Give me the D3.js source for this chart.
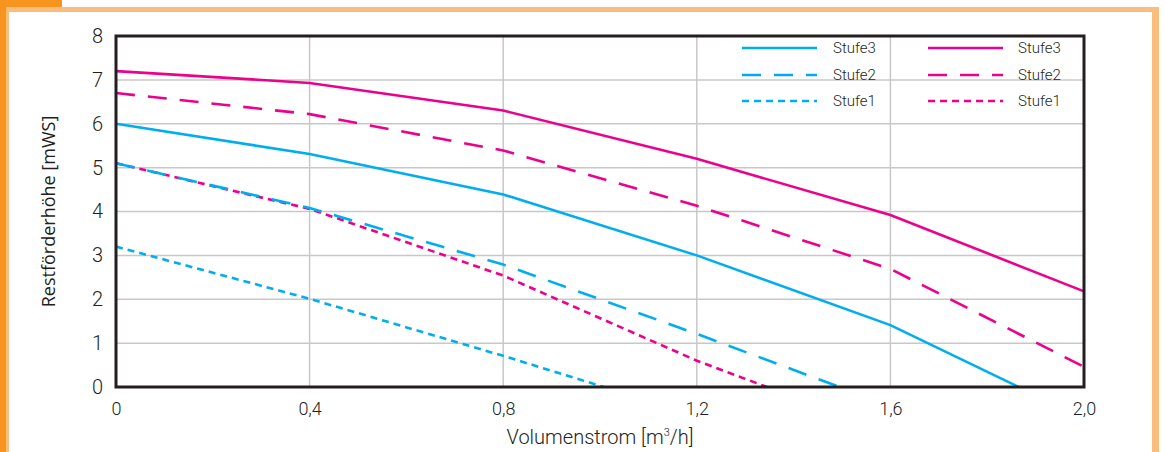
<!DOCTYPE html>
<html>
<head>
<meta charset="utf-8">
<script src="https://cdn.jsdelivr.net/npm/d3@7/dist/d3.min.js"></script>
<style>
  html, body { margin: 0; padding: 0; background: #fff; }
  svg { display: block; }
</style>
</head>
<body>
<svg id="chart" width="1165" height="452"></svg>
<script>
// ---- data ----
const xTickValues = [0, 0.4, 0.8, 1.2, 1.6, 2.0];
const xTickLabels = ["0", "0,4", "0,8", "1,2", "1,6", "2,0"];
const yTickValues = [0, 1, 2, 3, 4, 5, 6, 7, 8];

const cyanStufe3Flow = [0, 0.4, 0.8, 1.2, 1.6, 1.865];
const cyanStufe3Head = [6.0, 5.31, 4.39, 3.0, 1.41, 0];
const cyanStufe2Flow = [0, 0.4, 0.8, 1.2, 1.495];
const cyanStufe2Head = [5.1, 4.08, 2.79, 1.21, 0];
const cyanStufe1Flow = [0, 0.4, 0.8, 1.008];
const cyanStufe1Head = [3.2, 2.01, 0.71, 0];

const magentaStufe3Flow = [0, 0.4, 0.8, 1.2, 1.6, 2.0];
const magentaStufe3Head = [7.2, 6.93, 6.3, 5.2, 3.92, 2.18];
const magentaStufe2Flow = [0, 0.4, 0.8, 1.2, 1.6, 2.0];
const magentaStufe2Head = [6.7, 6.22, 5.39, 4.13, 2.69, 0.46];
const magentaStufe1Flow = [0, 0.4, 0.8, 1.2, 1.345];
const magentaStufe1Head = [5.1, 4.06, 2.54, 0.6, 0];

const legendLabels = ["Stufe3", "Stufe2", "Stufe1"];

// ---- styles ----
const CYAN = "#00aeef";
const MAGENTA = "#ec008c";
const DASH = { "Stufe3": null, "Stufe2": "19,13", "Stufe1": "7,5" };
const FONT = "Roboto, sans-serif";
const TEXT = "#231f20";

const svg = d3.select("#chart");

// frame decoration
svg.append("rect").attr("x", 0).attr("y", 7).attr("width", 1159).attr("height", 460).attr("fill", "#fbbd7d");
svg.append("rect").attr("x", 9).attr("y", 12).attr("width", 1143).attr("height", 460).attr("fill", "#fff");
svg.append("rect").attr("x", 0).attr("y", 0).attr("width", 6).attr("height", 452).attr("fill", "#f7941d");
svg.append("rect").attr("x", 0).attr("y", 0).attr("width", 62).attr("height", 7).attr("fill", "#f7941d");

const x = d3.scaleLinear().domain([0, 2]).range([116, 1084]);
const y = d3.scaleLinear().domain([0, 8]).range([387, 36]);

// grid
const grid = svg.append("g");
grid.selectAll("line.h").data(yTickValues.filter(v => v > 0 && v < 8)).join("line")
  .attr("x1", x(0)).attr("x2", x(2)).attr("y1", d => y(d)).attr("y2", d => y(d))
  .attr("stroke", "#c8c8c8").attr("stroke-width", 1.5);
grid.selectAll("line.v").data(xTickValues.filter(v => v > 0 && v < 2)).join("line")
  .attr("y1", y(0)).attr("y2", y(8)).attr("x1", d => x(d)).attr("x2", d => x(d))
  .attr("stroke", "#c8c8c8").attr("stroke-width", 1.5);

// axes (labels only)
const xAxis = d3.axisBottom(x).tickValues(xTickValues).tickFormat((d, i) => xTickLabels[i]).tickSize(0).tickPadding(15);
const gx = svg.append("g").attr("transform", `translate(0,${y(0)})`).call(xAxis);
gx.select(".domain").remove();
gx.selectAll("text").attr("font-family", FONT).attr("font-weight", 300).attr("font-size", 18).attr("fill", TEXT);

const yAxis = d3.axisLeft(y).tickValues(yTickValues).tickFormat(d3.format("d")).tickSize(0).tickPadding(13);
const gy = svg.append("g").attr("transform", `translate(${x(0)},0)`).call(yAxis);
gy.select(".domain").remove();
gy.selectAll("text").attr("font-family", FONT).attr("font-weight", 300).attr("font-size", 20).attr("fill", TEXT);

// series
const line = d3.line().x(d => x(d[0])).y(d => y(d[1]));
const series = [
  { color: MAGENTA, name: "Stufe1", fx: magentaStufe1Flow, hy: magentaStufe1Head },
  { color: MAGENTA, name: "Stufe2", fx: magentaStufe2Flow, hy: magentaStufe2Head },
  { color: MAGENTA, name: "Stufe3", fx: magentaStufe3Flow, hy: magentaStufe3Head },
  { color: CYAN, name: "Stufe1", fx: cyanStufe1Flow, hy: cyanStufe1Head },
  { color: CYAN, name: "Stufe2", fx: cyanStufe2Flow, hy: cyanStufe2Head },
  { color: CYAN, name: "Stufe3", fx: cyanStufe3Flow, hy: cyanStufe3Head }
];
svg.append("g").selectAll("path").data(series).join("path")
  .attr("d", s => line(s.fx.map((v, i) => [v, s.hy[i]])))
  .attr("fill", "none")
  .attr("stroke", s => s.color)
  .attr("stroke-width", 2.6)
  .attr("stroke-dasharray", s => DASH[s.name]);

// plot frame
svg.append("rect").attr("x", x(0)).attr("y", y(8)).attr("width", x(2) - x(0)).attr("height", y(0) - y(8))
  .attr("fill", "none").attr("stroke", TEXT).attr("stroke-width", 3);

// legend
const legendColumns = [
  { color: CYAN, x1: 742, x2: 817, tx: 833 },
  { color: MAGENTA, x1: 928, x2: 1003, tx: 1018 }
];
const rowY = [48, 75, 101];
const lg = svg.append("g");
legendColumns.forEach(col => {
  legendLabels.forEach((lab, i) => {
    lg.append("line").attr("x1", col.x1).attr("x2", col.x2).attr("y1", rowY[i]).attr("y2", rowY[i])
      .attr("stroke", col.color).attr("stroke-width", 2.6).attr("stroke-dasharray", DASH[lab]);
    lg.append("text").attr("x", col.tx).attr("y", rowY[i]).attr("dy", "0.35em")
      .attr("font-family", FONT).attr("font-weight", 300).attr("font-size", 15).attr("fill", TEXT).text(lab);
  });
});

// axis titles
const xt = svg.append("text").attr("x", (x(0) + x(2)) / 2).attr("y", 444).attr("text-anchor", "middle")
  .attr("font-family", FONT).attr("font-weight", 300).attr("font-size", 20).attr("fill", TEXT);
xt.append("tspan").text("Volumenstrom [m");
xt.append("tspan").attr("font-size", 11).attr("dy", -8).text("3");
xt.append("tspan").attr("dy", 8).text("/h]");

svg.append("text").attr("transform", `translate(55,${(y(0) + y(8)) / 2}) rotate(-90)`)
  .attr("text-anchor", "middle")
  .attr("font-family", "'Open Sans', sans-serif").attr("font-size", 18).attr("fill", TEXT)
  .text("Restförderhöhe [mWS]");
</script>
</body>
</html>
